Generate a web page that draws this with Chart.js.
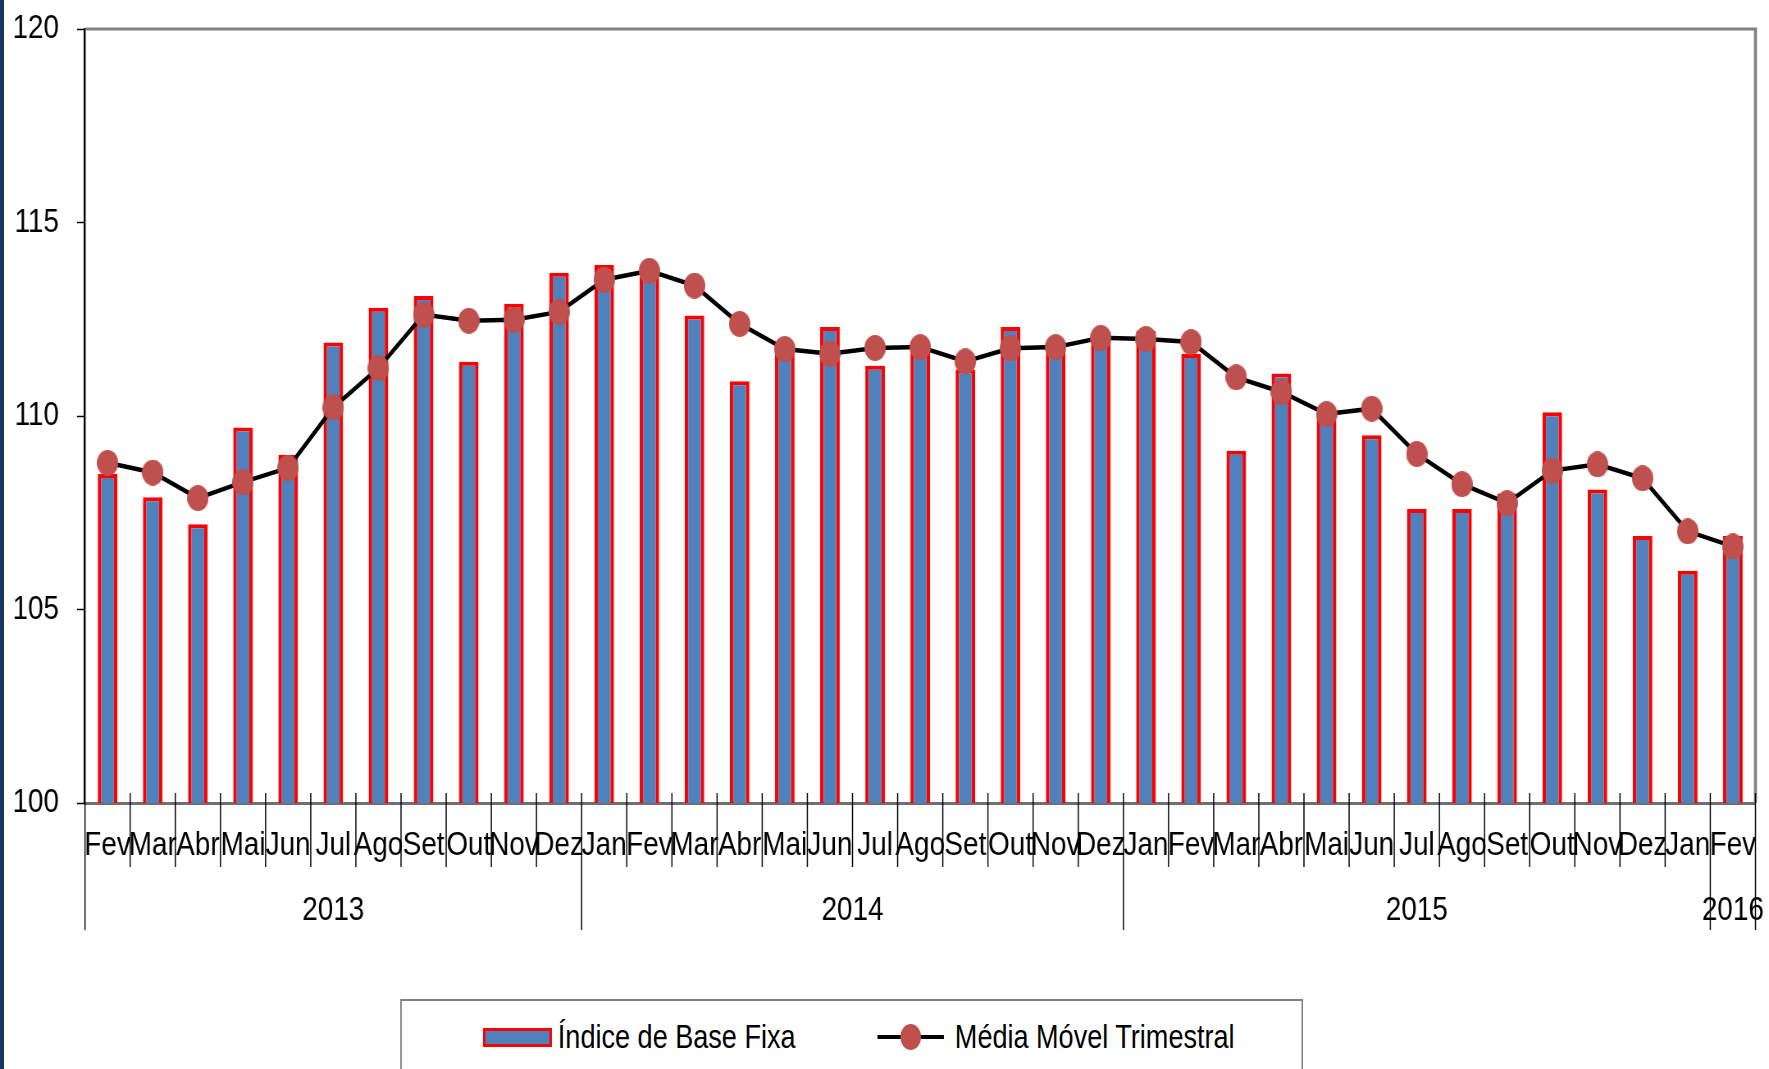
<!DOCTYPE html>
<html>
<head>
<meta charset="utf-8">
<script src="https://cdn.jsdelivr.net/npm/chart.js@4.4.1/dist/chart.umd.min.js"></script>
<style>
  html, body { margin: 0; padding: 0; background: #fff; overflow: hidden; width: 1769px; height: 1069px; }
  #outer { position: relative; width: 1769px; height: 1069px; overflow: hidden; }
  /* Arial Narrow look: Arial-metric font compressed horizontally */
  #wrap { position: absolute; left: 0; top: 0; width: 2157px; height: 1069px;
          transform: scaleX(0.8201); transform-origin: 0 0; }
  #edge { position: absolute; left: 0; top: 0; width: 4px; height: 1069px; background: #17375E; }
  #legend { position: absolute; left: 488px; top: 999px; width: 1101px; height: 120px;
            border: 2px solid #808080; box-sizing: border-box; background: #fff; }
  .ltext { position: absolute; font-family: 'Liberation Sans', Arial, sans-serif;
           font-size: 33px; line-height: 33px; color: #000; white-space: nowrap; }
</style>
</head>
<body>
<div id="outer">
  <div id="wrap">
    <canvas id="c" width="2157" height="1069"></canvas>
    <div id="legend"></div>
  </div>
  <div id="edge"></div>
</div>
<script>
// ---- data ----
const months = ['Fev','Mar','Abr','Mai','Jun','Jul','Ago','Set','Out','Nov','Dez',
                'Jan','Fev','Mar','Abr','Mai','Jun','Jul','Ago','Set','Out','Nov','Dez',
                'Jan','Fev','Mar','Abr','Mai','Jun','Jul','Ago','Set','Out','Nov','Dez',
                'Jan','Fev'];
const yearLabels = ['2013','2014','2015','2016'];
const yearSpans = [11, 12, 13, 1];
const indiceBaseFixa = [108.5, 107.9, 107.2, 109.7, 109.0, 111.9, 112.8, 113.1, 111.4, 112.9, 113.7,
                        113.9, 113.6, 112.6, 110.9, 111.65, 112.3, 111.3, 111.7, 111.2, 112.3, 111.8, 111.95,
                        112.2, 111.6, 109.1, 111.1, 109.9, 109.5, 107.6, 107.6, 108.0, 110.1, 108.1, 106.9,
                        106.0, 106.9];
const mediaMovel = [108.79, 108.54, 107.88, 108.29, 108.66, 110.22, 111.24, 112.62, 112.46, 112.49, 112.69,
                    113.52, 113.75, 113.37, 112.38, 111.73, 111.61, 111.76, 111.78, 111.41, 111.75, 111.78, 112.02,
                    111.99, 111.91, 111.0, 110.62, 110.05, 110.19, 109.02, 108.24, 107.75, 108.59, 108.75, 108.39,
                    107.02, 106.63];
const seriesNames = ['Índice de Base Fixa', 'Média Móvel Trimestral'];

const SX = 0.8201;               // horizontal compression of the drawing
const FONT = "'Liberation Sans', Arial, sans-serif";
const BAR_FILL = '#4F81BD', BAR_BORDER = '#FF0000', MARKER = '#C0504D';
const hx = v => v / SX;          // real horizontal px -> canvas px

function ellipseCanvas(w, h, color) {
  const c = document.createElement('canvas');
  c.width = w; c.height = h;
  const g = c.getContext('2d');
  g.fillStyle = color;
  g.beginPath();
  g.ellipse(w / 2, h / 2, w / 2, h / 2, 0, 0, Math.PI * 2);
  g.fill();
  return c;
}
const marker = ellipseCanvas(Math.round(hx(21)), 26, MARKER);

const framePlugin = {
  id: 'frame',
  beforeDatasetsDraw(chart) {
    const { ctx, chartArea: a } = chart;
    ctx.save();
    ctx.strokeStyle = '#808080';
    ctx.lineWidth = 3;
    ctx.beginPath();
    ctx.moveTo(a.left, a.top); ctx.lineTo(a.right + hx(1.5), a.top);
    ctx.stroke();
    ctx.lineWidth = hx(3);
    ctx.beginPath();
    ctx.moveTo(a.right, a.top); ctx.lineTo(a.right, a.bottom);
    ctx.stroke();
    ctx.restore();
  }
};

const xDecor = {
  id: 'xdecor',
  afterDraw(chart) {
    const { ctx } = chart;
    const xs = chart.scales.x;
    const axisY = xs.top;
    ctx.save();
    ctx.strokeStyle = '#000';
    ctx.lineWidth = hx(1.2);
    const yearBounds = [0];
    let acc = 0;
    yearSpans.forEach(s => { acc += s; yearBounds.push(acc); });
    for (let i = 0; i <= months.length; i++) {
      const x = xs.getPixelForValue(i - 0.5);
      const isYear = yearBounds.includes(i);
      ctx.beginPath();
      ctx.moveTo(x, isYear && i === 0 ? axisY : axisY - 10);
      ctx.lineTo(x, isYear ? axisY + 127 : axisY + 64);
      ctx.stroke();
    }
    ctx.fillStyle = '#000';
    ctx.font = '34px ' + FONT;
    ctx.textAlign = 'center';
    ctx.textBaseline = 'alphabetic';
    for (let k = 0; k < yearLabels.length; k++) {
      const x0 = xs.getPixelForValue(yearBounds[k] - 0.5);
      const x1 = xs.getPixelForValue(yearBounds[k + 1] - 0.5);
      ctx.fillText(yearLabels[k], (x0 + x1) / 2, axisY + 117);
    }
    ctx.restore();
  }
};

new Chart(document.getElementById('c'), {
  data: {
    labels: months,
    datasets: [
      {
        type: 'line',
        label: seriesNames[1],
        data: mediaMovel,
        borderColor: '#000',
        borderWidth: 4.5,
        tension: 0,
        pointStyle: marker,
        pointRadius: 12,
        pointHoverRadius: 12,
        order: 0
      },
      {
        type: 'bar',
        label: seriesNames[0],
        data: indiceBaseFixa,
        backgroundColor: BAR_FILL,
        borderColor: BAR_BORDER,
        borderWidth: { left: hx(3.5), right: hx(3.5), top: 4, bottom: 3 },
        borderSkipped: false,
        barPercentage: 0.434,
        categoryPercentage: 1.0,
        order: 1
      }
    ]
  },
  options: {
    responsive: false,
    animation: false,
    layout: { padding: { left: 0, top: 0, right: hx(12), bottom: 0 } },
    plugins: { legend: { display: false }, tooltip: { enabled: false }, title: { display: false } },
    scales: {
      x: {
        type: 'category',
        offset: true,
        afterFit: s => { s.height = 1069 - 803; s.paddingLeft = 0; s.paddingRight = 0; },
        grid: { display: false, drawTicks: false },
        border: { display: true, color: '#6f6f6f', width: 3 },
        ticks: { autoSkip: false, maxRotation: 0, minRotation: 0, padding: 22, color: '#000',
                 font: { size: 34, family: FONT } }
      },
      y: {
        min: 100, max: 120,
        afterFit: s => { s.width = hx(85); s.paddingTop = 29; s.paddingBottom = 0; },
        grid: { drawOnChartArea: false, drawTicks: true, tickLength: hx(8), tickColor: '#000', tickWidth: 1.5 },
        border: { display: true, color: '#000', width: hx(2) },
        ticks: { stepSize: 5, padding: 22, color: '#000', font: { size: 34, family: FONT } }
      }
    }
  },
  plugins: [framePlugin, xDecor]
});

// ---- legend (HTML, inside the compressed wrapper) ----
(function () {
  const lg = document.getElementById('legend');
  const ox = 400, oy = 999;
  const px = v => hx(v - ox) + 'px';
  const sw = document.createElement('div');
  Object.assign(sw.style, { position: 'absolute', left: px(481), top: (1026 - oy) + 'px',
    width: hx(69) + 'px', height: '19px', background: BAR_FILL,
    borderStyle: 'solid', borderColor: BAR_BORDER, borderWidth: '3px ' + hx(3) + 'px', boxSizing: 'border-box' });
  lg.appendChild(sw);
  const t1 = document.createElement('div');
  t1.className = 'ltext'; t1.textContent = seriesNames[0];
  Object.assign(t1.style, { left: px(556), top: (1017.5 - oy) + 'px' });
  lg.appendChild(t1);
  const ln = document.createElement('div');
  Object.assign(ln.style, { position: 'absolute', left: px(876), top: (1033 - oy) + 'px',
    width: hx(66) + 'px', height: '4px', background: '#000' });
  lg.appendChild(ln);
  const mk = document.createElement('div');
  Object.assign(mk.style, { position: 'absolute', left: px(909 - 10.5), top: (1035 - 13 - oy) + 'px',
    width: hx(21) + 'px', height: '26px', borderRadius: '50%', background: MARKER });
  lg.appendChild(mk);
  const t2 = document.createElement('div');
  t2.className = 'ltext'; t2.textContent = seriesNames[1];
  Object.assign(t2.style, { left: px(953), top: (1017.5 - oy) + 'px' });
  lg.appendChild(t2);
})();
</script>
</body>
</html>
